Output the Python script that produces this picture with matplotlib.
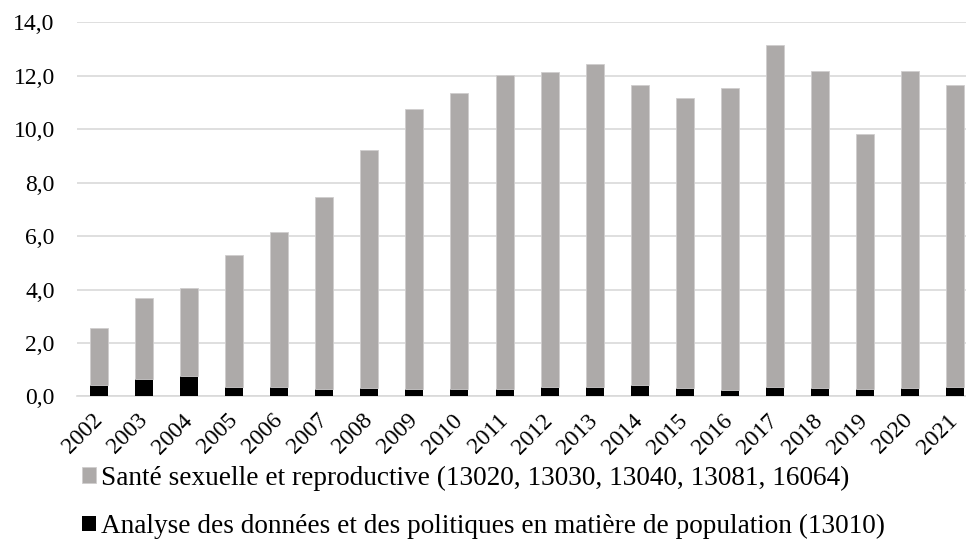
import matplotlib.pyplot as plt
import numpy as np

plt.rcParams['font.family'] = ['Liberation Serif', 'DejaVu Serif']

years = [str(y) for y in range(2002, 2022)]
# total height of each stacked bar
totals = [2.55, 3.70, 4.05, 5.30, 6.15, 7.47, 9.21, 10.76, 11.36, 12.03,
          12.13, 12.43, 11.66, 11.16, 11.53, 13.14, 12.17, 9.82, 12.19, 11.66]
analyse = [0.43, 0.65, 0.78, 0.37, 0.35, 0.28, 0.31, 0.28, 0.28, 0.28,
           0.37, 0.35, 0.43, 0.31, 0.24, 0.37, 0.31, 0.28, 0.31, 0.35]
sante = [t - a for t, a in zip(totals, analyse)]

lab_sante = "Santé sexuelle et reproductive (13020, 13030, 13040, 13081, 16064)"
lab_analyse = "Analyse des données et des politiques en matière de population (13010)"

fig = plt.figure(figsize=(9.66, 5.56), dpi=100)
ax = fig.add_axes([0.0797, 0.2869, 0.9317, 0.673])

x = np.arange(len(years))
b1 = ax.bar(x, analyse, width=0.4, color='black', zorder=3)
b2 = ax.bar(x, sante, bottom=analyse, width=0.4, color='#adaaa9',
            edgecolor='#d0cece', linewidth=0.6, zorder=3)

ax.set_ylim(0, 14)
ax.set_xlim(-0.5, len(years) - 0.5)
ax.set_yticks(np.arange(0, 15, 2))
ax.set_yticklabels([f"{v:.1f}".replace('.', ',') for v in np.arange(0, 15, 2)],
                   fontsize=17)
ax.set_xticks(x)
ax.set_xticklabels(years, rotation=45, ha='right', va='center',
                   rotation_mode='anchor', fontsize=17)
ax.grid(axis='y', color='#d9d9d9', linewidth=1.2, zorder=0)
for s in ['top', 'right', 'left']:
    ax.spines[s].set_visible(False)
ax.spines['bottom'].set_color('#d9d9d9')
ax.spines['bottom'].set_linewidth(1.2)
ax.tick_params(axis='y', length=0, pad=16)
ax.tick_params(axis='x', length=0, pad=15)

fig.legend([b2, b1], [lab_sante, lab_analyse], loc='upper left',
           bbox_to_anchor=(0.074, 0.182), frameon=False, fontsize=19.6,
           handlelength=0.5, handleheight=0.5, handletextpad=0.2,
           labelspacing=0.85, borderaxespad=0)

plt.savefig("out.png", dpi=100)
plt.close()
